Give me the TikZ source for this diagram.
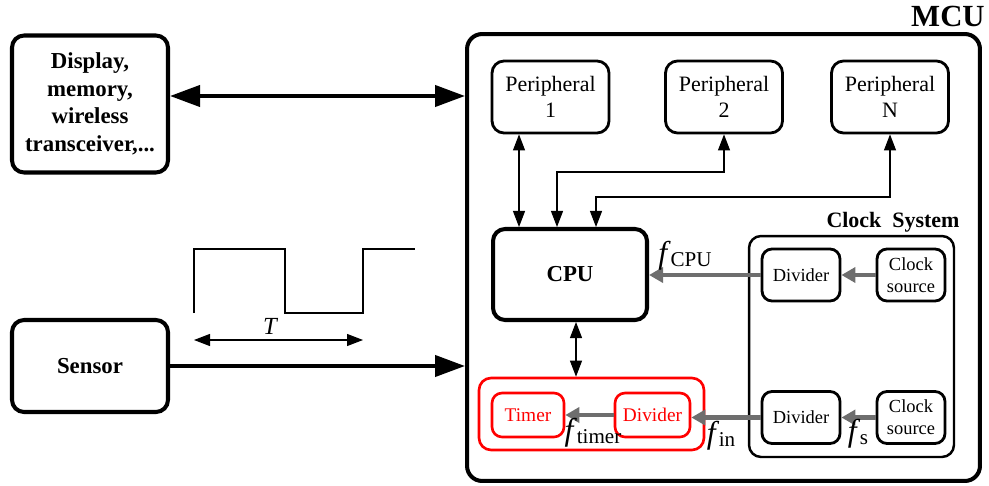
\documentclass[tikz,border=0pt]{standalone}
\usepackage{fontspec}
\setmainfont{Liberation Serif}
\usetikzlibrary{arrows.meta,calc}
\newcommand\fsub[1]{{\fontsize{18}{18}\selectfont\textit{f}}\kern-0.02em\raisebox{-0.3ex}{\fontsize{12}{12}\selectfont #1}}
\tikzset{
  bigbox/.style={draw, line width=2.3pt, rounded corners=0.24cm, align=center, font=\fontsize{13}{15.7}\selectfont\bfseries},
  perbox/.style={draw, line width=1.6pt, rounded corners=0.24cm, align=center, minimum width=2.34cm, minimum height=1.44cm, font=\fontsize{12.5}{15}\selectfont},
  smallbox/.style={draw, line width=1.6pt, rounded corners=0.2cm, align=center, minimum height=1.04cm, font=\fontsize{10.5}{12.5}\selectfont},
  redbox/.style={draw=red, text=red, line width=1.5pt, rounded corners=0.2cm, align=center, minimum height=0.88cm, font=\fontsize{11}{13}\selectfont},
  bigarrow/.style={line width=2.3pt, -{Triangle[length=0.6cm,width=0.42cm]}},
  bigdarrow/.style={line width=2.3pt, {Triangle[length=0.6cm,width=0.42cm]}-{Triangle[length=0.6cm,width=0.42cm]}},
  thinarrow/.style={line width=0.6pt, {Triangle[length=0.32cm,width=0.24cm]}-{Triangle[length=0.32cm,width=0.24cm]}},
  grayarrow/.style={draw={rgb,255:red,110;green,110;blue,110}, line width=2.8pt, -{Triangle[length=0.28cm,width=0.3cm]}},
  lbl/.style={inner sep=0pt}
}
\begin{document}
\begin{tikzpicture}[x=0.02cm, y=-0.02cm]
\useasboundingbox (0,0) rectangle (989,486);
% outer blocks
\node[bigbox, minimum width=3.12cm, minimum height=2.74cm] (disp) at (90,104) {Display,\\memory,\\wireless\\transceiver,...};
\node[bigbox, minimum width=3.12cm, minimum height=1.84cm] (sensor) at (90,366) {Sensor};
\node[draw, line width=2.3pt, rounded corners=0.3cm, minimum width=10.26cm, minimum height=8.94cm] (mcu) at (723.5,257.5) {};
\node[lbl, font=\fontsize{17.5}{17.5}\selectfont\bfseries, anchor=east] (mculbl) at (985,16) {MCU};
% peripherals
\node[perbox] (p1) at (550.5,97) {Peripheral\\1};
\node[perbox] (p2) at (724,97) {Peripheral\\2};
\node[perbox] (pN) at (890,97) {Peripheral\\N};
% CPU
\node[bigbox, minimum width=3.08cm, minimum height=1.82cm] (cpu) at (570,274.5) {CPU};
% clock system
\node[draw, line width=1.4pt, rounded corners=0.24cm, minimum width=4.1cm, minimum height=4.42cm] (clk) at (851.5,346.5) {};
\node[lbl, font=\fontsize{12.5}{12.5}\selectfont\bfseries] (clklbl) at (893,222) {Clock\ \ System};
\node[smallbox, minimum width=1.56cm] (div1) at (801,275) {Divider};
\node[smallbox, minimum width=1.36cm] (src1) at (911,275) {Clock\\source};
\node[smallbox, minimum width=1.56cm] (div2) at (801,417.5) {Divider};
\node[smallbox, minimum width=1.36cm] (src2) at (911,417.5) {Clock\\source};
% timer block
\node[draw=red, line width=1.5pt, rounded corners=0.24cm, minimum width=4.5cm, minimum height=1.44cm] (red) at (591.5,414) {};
\node[redbox, minimum width=1.44cm] (timer) at (528,415) {Timer};
\node[redbox, minimum width=1.5cm] (rdiv) at (652.5,415) {Divider};
% external arrows
\draw[bigdarrow] ([yshift=0.16cm]disp.east) -- ([yshift=0.16cm]disp.east -| mcu.west);
\draw[bigarrow] (sensor.east) -- (sensor.east -| mcu.west);
% square wave
\draw[line width=1.2pt] (194,313) -- (194,249) -- (285,249) -- (285,313) -- (363,313) -- (363,249) -- (415,249);
\coordinate (ta) at (194,340);
\coordinate (tb) at (363,340);
\draw[thinarrow] (ta) -- (tb);
\node[lbl, font=\fontsize{14}{14}\selectfont\itshape] (tlbl) at (270,326) {T};
% peripheral buses
\coordinate (a1) at ([xshift=-0.63cm]p1.south);
\draw[thinarrow] (a1) -- (a1 |- cpu.north);
\draw[thinarrow] (p2.south) -- (p2.south |- 0,172) -| ([xshift=-0.26cm]cpu.north);
\draw[thinarrow] (pN.south) -- (pN.south |- 0,197) -| ([xshift=0.52cm]cpu.north);
\draw[thinarrow] ([xshift=0.12cm]cpu.south) -- ([xshift=0.12cm]cpu.south |- red.north);
% clock arrows
\draw[grayarrow] (src1.west) -- (div1.east);
\draw[grayarrow] (div1.west) -- (div1.west -| cpu.east);
\draw[grayarrow] (src2.west) -- (div2.east);
\draw[grayarrow] (div2.west) -- (div2.west -| rdiv.east);
\draw[grayarrow, line width=2.4pt] (rdiv.west) -- (timer.east);
% frequency labels
\node[lbl] (fcpu) at (685,256) {\fsub{CPU}};
\node[lbl] (ftimer) at (593,433) {\fsub{timer}};
\node[lbl] (fin) at (721,436) {\fsub{in}};
\node[lbl] (fs) at (858,434) {\fsub{s}};
\end{tikzpicture}
\end{document}
